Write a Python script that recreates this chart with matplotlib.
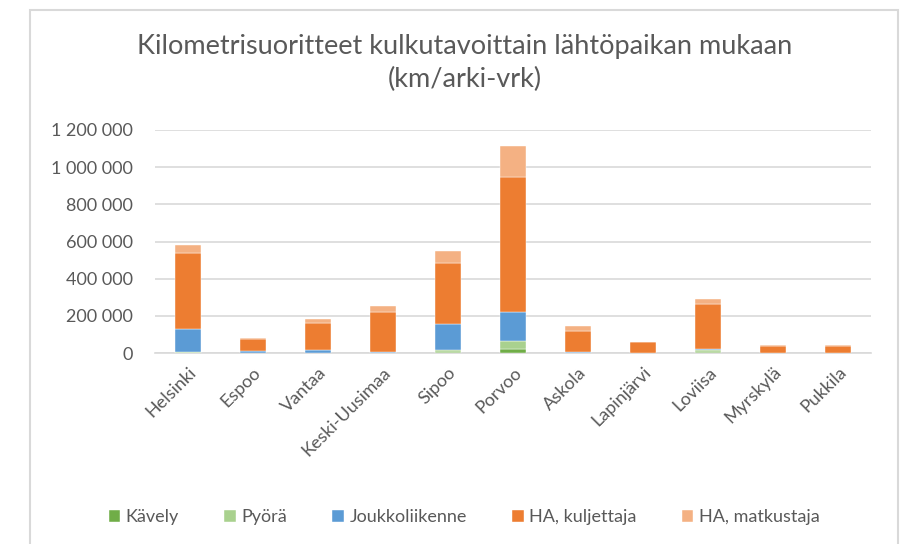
import matplotlib.pyplot as plt
import matplotlib.patches as mpatches
import numpy as np

plt.rcParams['font.family'] = ['Lato', 'DejaVu Sans']

kunnat = ['Helsinki', 'Espoo', 'Vantaa', 'Keski-Uusimaa', 'Sipoo', 'Porvoo',
          'Askola', 'Lapinjärvi', 'Loviisa', 'Myrskylä', 'Pukkila']
kavely = [2000, 500, 1000, 500, 4000, 20000, 500, 500, 4000, 300, 300]
pyora = [2000, 500, 1000, 500, 12000, 46000, 500, 500, 10000, 300, 300]
joukkoliikenne = [125000, 8000, 16000, 7000, 140000, 153000, 5000, 1000, 5000, 500, 500]
ha_kuljettaja = [408000, 65000, 145000, 213000, 330000, 730000, 112000, 55000, 245000, 38000, 38000]
ha_matkustaja = [43000, 5000, 18000, 30000, 63000, 165000, 26000, 3000, 27000, 2000, 2000]

sarjat = ['Kävely', 'Pyörä', 'Joukkoliikenne', 'HA, kuljettaja', 'HA, matkustaja']
arvot = [kavely, pyora, joukkoliikenne, ha_kuljettaja, ha_matkustaja]
varit = ['#70AD47', '#A9D18E', '#5B9BD5', '#ED7D31', '#F4B183']

fig = plt.figure(figsize=(9.07, 5.44), dpi=100)
# chart frame
fig.patches.append(mpatches.Rectangle((29.5 / 907, -0.05), (898 - 29.5) / 907, 1.05 - 9.5 / 544,
                                      transform=fig.transFigure, fill=False,
                                      edgecolor='#D9D9D9', linewidth=1.5))

ax = fig.add_axes([155 / 907, (544 - 353) / 544, 716 / 907, 223 / 544])
x = np.arange(len(kunnat))
pohja = np.zeros(len(kunnat))
for nimi, v, c in zip(sarjat, arvot, varit):
    ax.bar(x, v, 0.4, bottom=pohja, color=c, label=nimi, edgecolor='white', linewidth=0.3, zorder=3)
    pohja += np.array(v)

ax.set_xlim(-0.5, len(kunnat) - 0.5)
ax.set_ylim(0, 1200000)
yt = np.arange(0, 1200001, 200000)
ax.set_yticks(yt)
ax.set_yticklabels(['{:,}'.format(t).replace(',', ' ') for t in yt])
ax.yaxis.grid(True, color='#D9D9D9', linewidth=1.2, zorder=0)
for s in ['top', 'right', 'left']:
    ax.spines[s].set_visible(False)
ax.spines['bottom'].set_color('#D9D9D9')
ax.spines['bottom'].set_linewidth(1.2)
ax.tick_params(axis='y', length=0, labelsize=13, labelcolor='#595959', pad=16)
ax.tick_params(axis='x', length=0, labelsize=13, labelcolor='#595959', pad=8)
ax.set_xticks(x)
ax.set_xticklabels(kunnat, rotation=45, ha='right', rotation_mode='anchor')

fig.text(0.512, 1 - 63 / 544, 'Kilometrisuoritteet kulkutavoittain lähtöpaikan mukaan\n(km/arki-vrk)',
         ha='center', va='center', fontsize=19.5, color='#595959', linespacing=1.35)

ax.legend(loc='center', bbox_to_anchor=(464 / 907, 1 - 517 / 544), bbox_transform=fig.transFigure,
          ncol=5, frameon=False, fontsize=13, labelcolor='#595959', handlelength=0.65,
          handleheight=0.65, handletextpad=0.3, columnspacing=2.5)

fig.savefig('out.png', dpi=100)
